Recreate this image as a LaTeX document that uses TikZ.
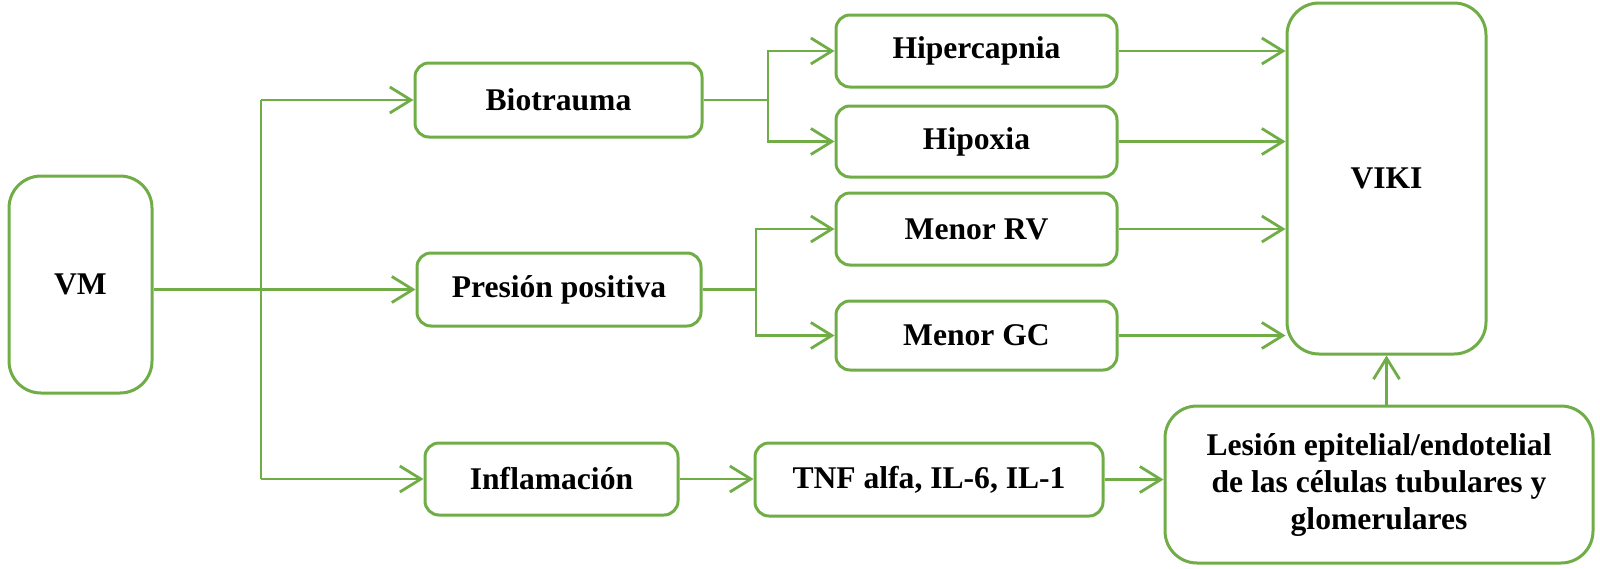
\documentclass[tikz,border=0pt]{standalone}
\usepackage{fontspec}
\setmainfont{Liberation Serif}
\usetikzlibrary{arrows.meta,calc}
\definecolor{grn}{RGB}{112,173,71}
\begin{document}
\begin{tikzpicture}[x=0.5pt,y=-0.5pt,
 box/.style={draw=grn, line width=1.5pt, rounded corners=7pt, fill=white, inner sep=0pt, align=center, font=\fontsize{15.8}{18.5}\selectfont\bfseries},
 big/.style={box, rounded corners=16pt},
 arr/.style={draw=grn, line width=1.4pt, -{Straight Barb[length=10.5pt,width=13pt,line width=1.4pt]}},
 ln/.style={draw=grn, line width=1.4pt}]
\useasboundingbox (0,0) rectangle (1600,568);

\node[big, minimum width=71.5pt, minimum height=108.5pt] (vm) at (80.5,284.5) {VM};
\node[box, minimum width=143.5pt, minimum height=37pt] (bio) at (558.5,100) {Biotrauma};
\node[box, minimum width=142pt, minimum height=36.5pt] (pres) at (559,289.5) {Presión positiva};
\node[box, minimum width=126.5pt, minimum height=36pt] (infl) at (551.5,479) {Inflamación};
\node[box, minimum width=174pt, minimum height=36.5pt] (tnf) at (929,479.5) {TNF alfa, IL-6, IL-1};
\node[big, minimum width=214pt, minimum height=78.5pt] (les) at (1379,484.5) {Lesión epitelial/endotelial\\de las células tubulares y\\glomerulares};
\node[big, minimum width=99.5pt, minimum height=175.5pt] (viki) at (1386.5,178.5) {VIKI};
\node[box, minimum width=140.5pt, minimum height=36pt] (hcap) at (976.5,51) {Hipercapnia};
\node[box, minimum width=140.5pt, minimum height=35.5pt] (hipo) at (976.5,141.5) {Hipoxia};
\node[box, minimum width=140.5pt, minimum height=36pt] (mrv) at (976.5,229) {Menor RV};
\node[box, minimum width=140.5pt, minimum height=34.5pt] (mgc) at (976.5,335.5) {Menor GC};

\coordinate (tx) at (261,0);
\coordinate (bx) at (768,0);
\coordinate (px) at (756,0);

\draw[arr] (vm.east |- pres.west) -- (pres.west);
\draw[ln] (tx |- bio.west) -- (tx |- infl.west);
\draw[arr] (tx |- bio.west) -- (bio.west);
\draw[arr] (tx |- infl.west) -- (infl.west);
\draw[arr] (infl.east) -- (infl.east -| tnf.west);
\draw[arr] (tnf.east) -- (tnf.east -| les.west);
\draw[arr] (viki.south |- les.north) -- (viki.south);

\draw[ln] (bio.east) -- (bx |- bio.east);
\draw[arr] (bx |- bio.east) |- (hcap.west);
\draw[arr] (bx |- bio.east) |- (hipo.west);
\draw[ln] (pres.east) -- (px |- pres.east);
\draw[arr] (px |- pres.east) |- (mrv.west);
\draw[arr] (px |- pres.east) |- (mgc.west);

\draw[arr] (hcap.east) -- (hcap.east -| viki.west);
\draw[arr] (hipo.east) -- (hipo.east -| viki.west);
\draw[arr] (mrv.east) -- (mrv.east -| viki.west);
\draw[arr] (mgc.east) -- (mgc.east -| viki.west);
\end{tikzpicture}
\end{document}
